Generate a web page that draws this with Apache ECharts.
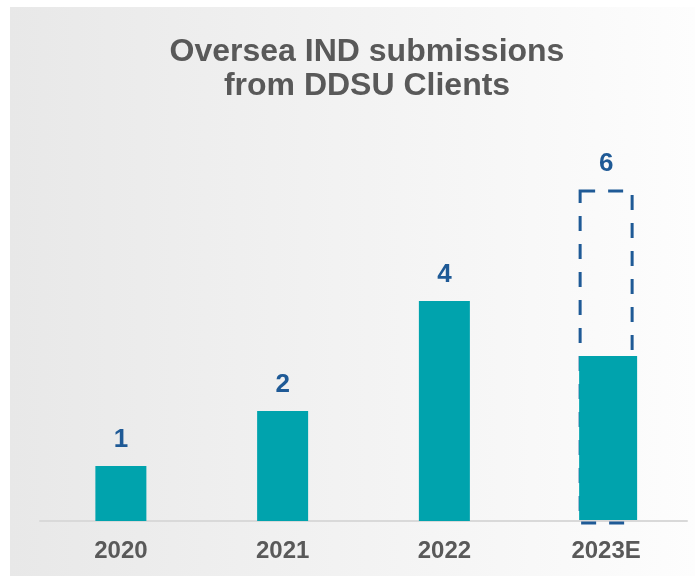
<!DOCTYPE html>
<html><head><meta charset="utf-8">
<script src="https://cdn.jsdelivr.net/npm/echarts@6/dist/echarts.min.js"></script>
<style>html,body{margin:0;padding:0;background:#fff;}#c{width:695px;height:576px;}</style>
</head><body><div id="c"></div>
<script>
var categories = ['2020', '2021', '2022', '2023E'];
var actualValues = [1, 2, 4, null];
var estimateActual = [null, null, null, 3];
var estimateTarget = [null, null, null, 6];
var titleText = 'Oversea IND submissions\nfrom DDSU Clients';

var chart = echarts.init(document.getElementById('c'));
var TEAL = '#00A3AD', BLUE = '#1F5A96', GRAY = '#595959';

var estData = [];
for (var i = 0; i < categories.length; i++) {
  if (estimateTarget[i] != null) estData.push([i, estimateActual[i], estimateTarget[i]]);
}

chart.setOption({
  animation: false,
  graphic: [{
    type: 'rect', z: -10, silent: true,
    shape: { x: 10, y: 7, width: 685, height: 569 },
    style: { fill: new echarts.graphic.LinearGradient(0, 0, 1, 0, [
      { offset: 0, color: '#e8e8e8' }, { offset: 1, color: '#fdfdfd' }]) }
  }],
  title: {
    text: titleText, left: 362, top: 30, textAlign: 'center',
    textStyle: { fontFamily: 'Liberation Sans, Arial', fontWeight: 'bold', fontSize: 32, lineHeight: 34, color: GRAY }
  },
  grid: { left: 40, right: 8, top: 191, bottom: 55 },
  xAxis: {
    type: 'category', data: categories,
    axisLine: { lineStyle: { color: '#d9d9d9', width: 2 } },
    axisTick: { show: false },
    axisLabel: { margin: 18, fontFamily: 'Liberation Sans, Arial', fontWeight: 'bold', fontSize: 24, color: GRAY }
  },
  yAxis: { type: 'value', min: 0, max: 6, show: false, splitLine: { show: false } },
  series: [{
    type: 'bar', data: actualValues, barWidth: 51,
    itemStyle: { color: TEAL },
    label: { show: true, position: 'top', distance: 13, fontFamily: 'Liberation Sans, Arial', fontWeight: 'bold', fontSize: 26, color: BLUE }
  }, {
    type: 'custom', data: estData, z: 3,
    renderItem: function (params, api) {
      var idx = api.value(0);
      var base = api.coord([idx, 0]);
      var solidTop = api.coord([idx, api.value(1)]);
      var dashTop = api.coord([idx, api.value(2)]);
      var cx = base[0];
      return {
        type: 'group',
        children: [{
          type: 'rect',
          shape: { x: cx - 26, y: dashTop[1], width: 52, height: base[1] + 2 - dashTop[1] },
          style: { fill: 'none', stroke: BLUE, lineWidth: 3, lineDash: [15, 13] }
        }, {
          type: 'rect',
          shape: { x: cx - 27, y: solidTop[1], width: 58, height: base[1] - 1 - solidTop[1] },
          style: { fill: TEAL }
        }, {
          type: 'text',
          style: { text: String(api.value(2)), x: cx, y: dashTop[1] - 14, textAlign: 'center', textVerticalAlign: 'bottom',
            font: 'bold 26px "Liberation Sans", Arial', fill: BLUE }
        }]
      };
    }
  }]
});
</script></body></html>
